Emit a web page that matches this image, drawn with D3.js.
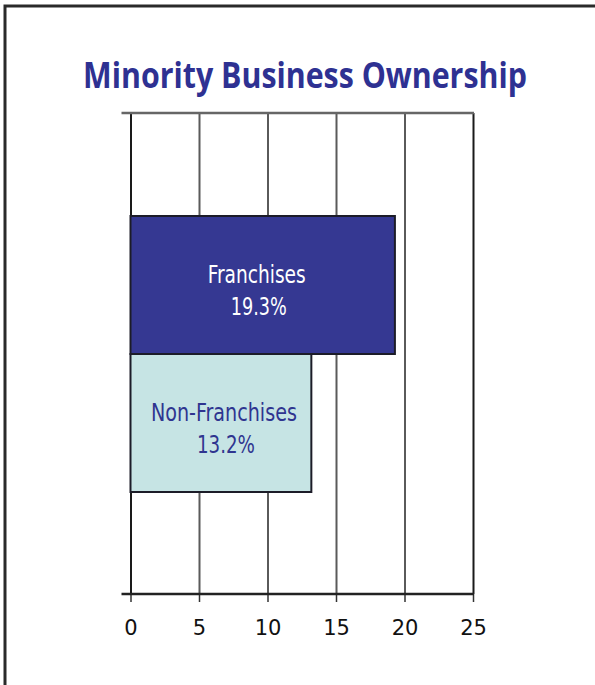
<!DOCTYPE html>
<html>
<head>
<meta charset="utf-8">
<script src="https://cdn.jsdelivr.net/npm/d3@7"></script>
<style>
  body { margin: 0; background: #fff; }
  svg { display: block; }
</style>
</head>
<body>
<div id="chart"></div>
<script>
var title = "Minority Business Ownership";
var categories = ["Franchises", "Non-Franchises"];
var values = [19.3, 13.2];
var valueLabels = ["19.3%", "13.2%"];
var tickValues = [0, 5, 10, 15, 20, 25];

var width = 595, height = 685;
var barColors = ["#353892", "#c6e4e4"];
var textColors = ["#ffffff", "#2f3590"];

var svg = d3.select("#chart")
  .append("svg")
  .attr("width", width)
  .attr("height", height);

// page frame (runs off the right and bottom edges)
svg.append("rect")
  .attr("x", 5).attr("y", 6)
  .attr("width", 620).attr("height", 720)
  .attr("fill", "#fff")
  .attr("stroke", "#2a2a2a")
  .attr("stroke-width", 3);

// title: condensed by a horizontal scale so it fits the reference width
var titleG = svg.append("g");
var titleText = titleG.append("text")
  .attr("x", 0).attr("y", 0)
  .attr("text-anchor", "middle")
  .attr("font-family", "'Open Sans', sans-serif")
  .attr("font-weight", "bold")
  .attr("font-size", 36)
  .attr("fill", "#2e3192")
  .text(title);
var titleW = titleText.node().getComputedTextLength();
titleG.attr("transform", `translate(305, 88) scale(${444 / titleW}, 1)`);

var plotTop = 113, plotBottom = 594;

var x = d3.scaleLinear()
  .domain([0, 25])
  .range([130.5, 473]);

var y = d3.scaleBand()
  .domain(categories)
  .range([216, 492])
  .padding(0);

// vertical grid lines
var grid = svg.append("g")
  .attr("transform", `translate(0, ${plotBottom})`)
  .call(d3.axisBottom(x).tickValues(tickValues).tickSize(-(plotBottom - plotTop)).tickFormat(""));
grid.select(".domain").remove();
grid.selectAll(".tick line")
  .attr("stroke", d => (d === 0 || d === 25) ? "#1a1a1a" : "#5a5a5a")
  .attr("stroke-width", 2);

// top rule
svg.append("line")
  .attr("x1", x(0) - 9).attr("x2", x(25) + 1)
  .attr("y1", plotTop).attr("y2", plotTop)
  .attr("stroke", "#666")
  .attr("stroke-width", 2.5);

// bars
var bars = svg.selectAll(".bar")
  .data(categories)
  .enter()
  .append("g")
  .attr("class", "bar");

bars.append("rect")
  .attr("x", x(0))
  .attr("y", d => y(d))
  .attr("width", (d, i) => x(values[i]) - x(0))
  .attr("height", y.bandwidth())
  .attr("fill", (d, i) => barColors[i])
  .attr("stroke", "#1c1c28")
  .attr("stroke-width", 2);

var labelWidths = [98, 146];
var pctWidths = [56, 58];
var labelOffsets = [-6, 3];

bars.append("text")
  .attr("x", (d, i) => (x(0) + x(values[i])) / 2 + labelOffsets[i])
  .attr("y", d => y(d) + 67)
  .attr("text-anchor", "middle")
  .attr("font-family", "'DejaVu Sans Condensed', 'Liberation Sans Narrow', sans-serif")
  .attr("font-size", 24)
  .attr("textLength", (d, i) => labelWidths[i])
  .attr("lengthAdjust", "spacingAndGlyphs")
  .attr("fill", (d, i) => textColors[i])
  .text(d => d);

bars.append("text")
  .attr("x", (d, i) => (x(0) + x(values[i])) / 2 + labelOffsets[i] + 2)
  .attr("y", d => y(d) + 99)
  .attr("text-anchor", "middle")
  .attr("font-family", "'DejaVu Sans Condensed', 'Liberation Sans Narrow', sans-serif")
  .attr("font-size", 24)
  .attr("textLength", (d, i) => pctWidths[i])
  .attr("lengthAdjust", "spacingAndGlyphs")
  .attr("fill", (d, i) => textColors[i])
  .text((d, i) => valueLabels[i]);

// bottom axis
var axis = svg.append("g")
  .attr("transform", `translate(0, ${plotBottom})`)
  .call(d3.axisBottom(x).tickValues(tickValues).tickSize(8).tickPadding(18).tickSizeOuter(0));
axis.select(".domain").remove();
axis.selectAll(".tick line").attr("stroke", "#333").attr("stroke-width", 1.5);
axis.selectAll(".tick text")
  .attr("font-family", "'DejaVu Sans', sans-serif")
  .attr("font-size", 21)
  .attr("fill", "#111");

svg.append("line")
  .attr("x1", x(0) - 9).attr("x2", x(25) + 1)
  .attr("y1", plotBottom).attr("y2", plotBottom)
  .attr("stroke", "#222")
  .attr("stroke-width", 2.5);
</script>
</body>
</html>
